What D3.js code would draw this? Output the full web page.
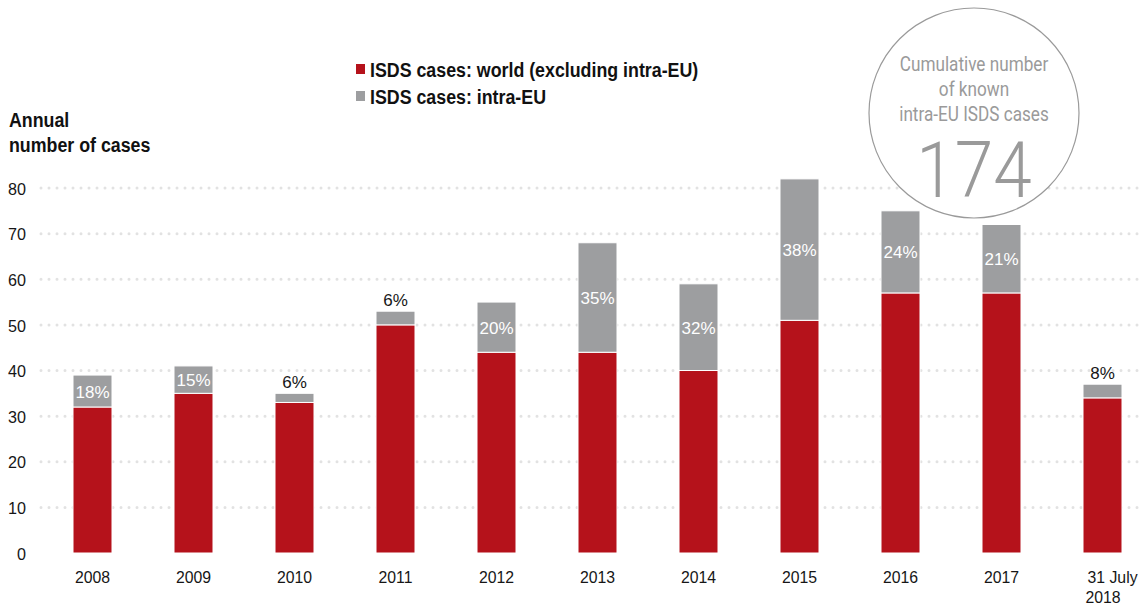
<!DOCTYPE html>
<html><head><meta charset="utf-8">
<script src="https://cdn.jsdelivr.net/npm/d3@7"></script>
<style>
body{margin:0;background:#fff;}
svg{display:block;}
</style></head><body>
<svg id="c" width="1143" height="608"></svg>
<script>
const categories = ["2008","2009","2010","2011","2012","2013","2014","2015","2016","2017","31 July 2018"];
const worldCases = [32,35,33,50,44,44,40,51,57,57,34];
const intraEUCases = [7,6,2,3,11,24,19,31,18,15,3];
const intraEUShare = ["18%","15%","6%","6%","20%","35%","32%","38%","24%","21%","8%"];
const yTicks = [0,10,20,30,40,50,60,70,80];
const legendLabels = ["ISDS cases: world (excluding intra-EU)","ISDS cases: intra-EU"];
const yTitle = ["Annual","number of cases"];
const cumulativeText = ["Cumulative number","of known","intra-EU ISDS cases"];
const cumulativeTotal = "174";

const RED="#b5121b", GRAY="#9d9ea0", INK="#161616", LIGHT="#9a9a9a";
const SANS = "Liberation Sans, Arial, Helvetica, sans-serif";
const svg = d3.select("#c");
const x = d3.scaleBand().domain(categories).range([42,1153]).paddingInner(0.614).paddingOuter(0.307);
const y = d3.scaleLinear().domain([0,80]).range([553,188]);

function ctext(g, tx, ty, str, o) {
  return g.append("text")
    .attr("transform", `translate(${tx},${ty}) scale(${o.sx||1},1)`)
    .attr("text-anchor", o.anchor||"start")
    .attr("font-family", o.family||SANS)
    .attr("font-size", o.size)
    .attr("font-weight", o.weight||"normal")
    .attr("fill", o.fill||INK)
    .text(str);
}

// gridlines (dotted)
const grid = svg.append("g");
yTicks.filter(d=>d>0).forEach(t=>{
  grid.append("line").attr("x1",41).attr("x2",1141).attr("y1",y(t)).attr("y2",y(t))
    .attr("stroke","#e2e2e2").attr("stroke-width",3).attr("stroke-linecap","round")
    .attr("stroke-dasharray","0 8");
});

// y axis (labels only)
const yAxis = d3.axisLeft(y).tickValues(yTicks).tickSize(0).tickPadding(0);
const ya = svg.append("g").attr("transform","translate(26,0)").call(yAxis);
ya.select(".domain").remove();
ya.selectAll(".tick text").each(function(){
  d3.select(this).attr("font-family",SANS).attr("font-size",17).attr("fill",INK).attr("text-anchor","end")
   .attr("dy","0.36em").attr("transform","scale(0.95,1)").attr("x",0);
});

// y title
yTitle.forEach((t,i)=> ctext(svg, 9, 127+i*25, t, {size:20, weight:"bold", sx:0.89, fill:"#111"}));

// circle annotation
const cg = svg.append("g");
cg.append("circle").attr("cx",974).attr("cy",113).attr("r",105).attr("fill","#fff").attr("stroke","#9a9a9a").attr("stroke-width",1.2);
cumulativeText.forEach((t,i)=> ctext(cg, 974, 71+i*25, t, {size:19.5, sx:0.88, anchor:"middle", fill:LIGHT, family:"Roboto, "+SANS, weight:400}));
ctext(cg, 974, 197, cumulativeTotal, {size:77, sx:0.9, anchor:"middle", fill:LIGHT, family:"Roboto, "+SANS, weight:300});

// bars
const bw = x.bandwidth();
const bars = svg.append("g");
categories.forEach((c,i)=>{
  const w = worldCases[i], e = intraEUCases[i];
  bars.append("rect").attr("x",x(c)).attr("width",bw).attr("y",y(w)).attr("height",y(0)-y(w))
    .attr("fill",RED).attr("stroke","#fff").attr("stroke-width",1);
  bars.append("rect").attr("x",x(c)).attr("width",bw).attr("y",y(w+e)).attr("height",y(w)-y(w+e))
    .attr("fill",GRAY).attr("stroke","#fff").attr("stroke-width",1);
  const segH = y(w)-y(w+e);
  const cx = x(c)+bw/2;
  if (segH > 20) {
    ctext(bars, cx, (y(w)+y(w+e))/2+6.5, intraEUShare[i], {size:17, anchor:"middle", fill:"#fff"});
  } else {
    ctext(bars, cx, y(w+e)-5, intraEUShare[i], {size:17, anchor:"middle", fill:INK});
  }
});

// x labels
const xl = svg.append("g");
categories.forEach((c,i)=>{
  const cx = x(c)+bw/2;
  if (c.indexOf(" ")>=0) {
    const parts = c.split(" ");
    const yr = parts.pop();
    ctext(xl, cx-15, 583, parts.join(" "), {size:17, sx:0.93});
    ctext(xl, cx-17, 603, yr, {size:17, sx:0.93});
  } else {
    ctext(xl, cx, 583, c, {size:17, sx:0.93, anchor:"middle"});
  }
});

// legend
const lg = svg.append("g");
legendLabels.forEach((t,i)=>{
  lg.append("rect").attr("x",356).attr("y",64+i*27).attr("width",9).attr("height",10).attr("fill",i===0?RED:GRAY);
  ctext(lg, 370, 77+i*27, t, {size:20, weight:"bold", sx:0.89, fill:"#111"});
});
</script>
</body></html>
